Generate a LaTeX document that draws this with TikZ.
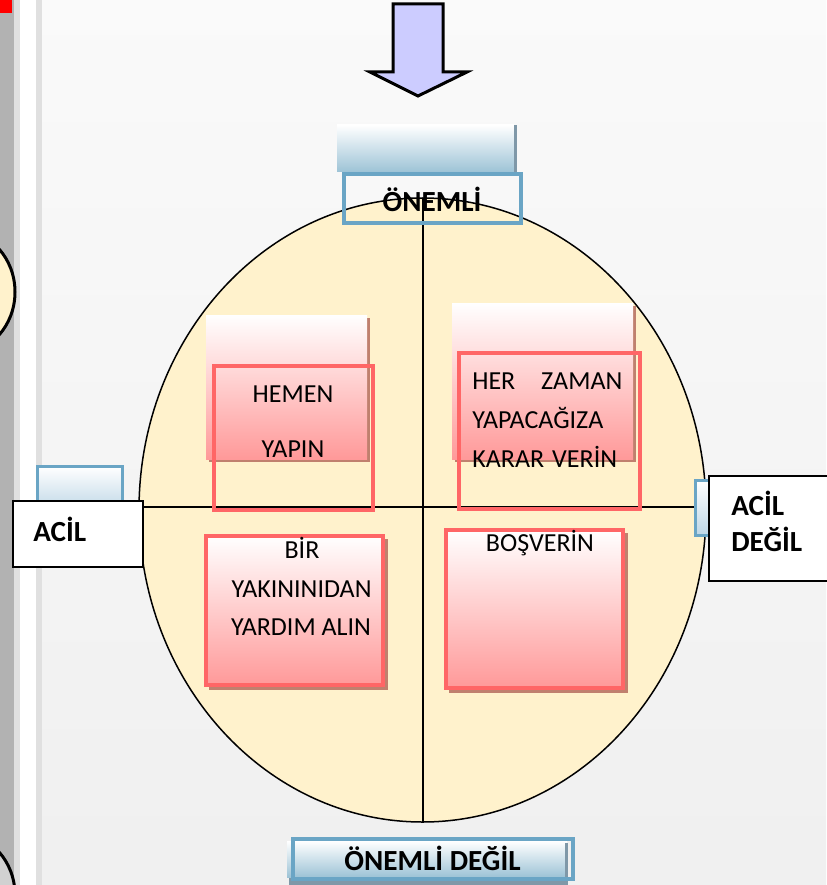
\documentclass[tikz,border=0pt]{standalone}
\usepackage{fontspec}
\setmainfont{Carlito}
\usetikzlibrary{calc}

\definecolor{cream}{HTML}{FFF2CC}
\definecolor{rosy}{HTML}{FF9999}
\definecolor{redline}{HTML}{FF6666}
\definecolor{brownshadow}{HTML}{C0806E}
\definecolor{steel}{HTML}{6AA5C5}
\definecolor{paleblue}{HTML}{9DC3D6}
\definecolor{iceblue}{HTML}{BDD6E6}
\definecolor{slate}{HTML}{7F98A8}
\definecolor{lilac}{HTML}{CCCCFF}

\tikzset{
  pinkgrad/.style={top color=white,bottom color=rosy},
  bluegrad/.style={top color=white,bottom color=#1},
  redframe/.style={draw=redline,line width=0.08cm},
  blueframe/.style={draw=steel,line width=0.08cm},
  bigword/.style={font=\bfseries\fontsize{16.6}{20.4}\selectfont,inner sep=0pt},
  quadword/.style={font=\fontsize{14.8}{22.4}\selectfont,inner sep=0pt}
}

\begin{document}
\begin{tikzpicture}[x=0.02cm,y=-0.02cm,line join=miter]

% ---------- page (1 unit = 1 pixel) ----------
\useasboundingbox (0,0) rectangle (826,885);
\begin{scope}
  \clip (0,0) rectangle (826,885);
  \shade[top color=black!2,bottom color=black!6] (42,0) rectangle (826,885);
  \fill[black!30] (0,0) rectangle (14,885);
  \fill[black!12] (14,0) rectangle (20,885);
  \fill[white] (20,0) rectangle (36,885);
  \fill[black!12] (36,0) rectangle (42,885);
  \fill[red] (0,0) rectangle (12,13);
  % bits of neighbouring shapes
  \draw[line width=0.06cm,fill=cream] (-40,292) ellipse [x radius=55,y radius=61];
  \draw[line width=0.06cm,fill=black!18] (-40,895) ellipse [x radius=55,y radius=61];
\end{scope}

% ---------- arrow ----------
\draw[line width=0.06cm,fill=lilac] (393,4) -- (443,4) -- (443,72) -- (467,72)
  -- (418,96) -- (370,72) -- (393,72) -- cycle;

% ---------- top label backing ----------
\shade[bluegrad=paleblue] (337,125) rectangle (514,172);
\fill[slate] (514,125) rectangle (517,172);

% ---------- circle and axes ----------
\draw[line width=0.03cm,fill=cream] (422.5,510) ellipse [x radius=283.5,y radius=312];
\draw[line width=0.03cm] (423,198) -- (423,822);
\draw[line width=0.03cm] (139,507) -- (706,507);

% ---------- quadrant boxes ----------
% top left
\fill[brownshadow] (209,318) rectangle (370,462);
\shade[pinkgrad] (206,315) rectangle (367,459);
\draw[redframe] (214,366) rectangle (373,510);
\node[quadword,anchor=base] (hemen) at (293,402) {HEMEN};
\node[quadword,anchor=base] (yapin) at (293,457) {YAPIN};

% top right
\fill[brownshadow] (455,306) rectangle (636,462);
\shade[pinkgrad] (452,303) rectangle (633,459);
\draw[redframe] (459,353) rectangle (640,509);
\node[quadword,anchor=base west,text width=3cm,align=left] (herzaman) at (472,389)
  {HER\hfill ZAMAN\\YAPACAĞIZA\\KARAR\hspace{0.16cm}VERİN};

% bottom left
\fill[brownshadow] (209,539) rectangle (388,690);
\shade[pinkgrad,redframe] (206,536) rectangle (383,685);
\node[quadword,anchor=base] (bir) at (302,558) {BİR};
\node[quadword,anchor=base] (yakin) at (301.5,597) {YAKININIDAN};
\node[quadword,anchor=base] (yardim) at (301,635) {YARDIM ALIN};

% bottom right
\fill[brownshadow] (449,533) rectangle (628,693);
\shade[pinkgrad,redframe] (446,530) rectangle (623,688);
\node[quadword,anchor=base] (bosverin) at (540,551) {BOŞVERİN};

% ---------- side labels ----------
\shade[bluegrad=iceblue,blueframe,line width=0.06cm] (37.5,466.5) rectangle (122.5,512);
\draw[line width=0.03cm,fill=white] (13,501) rectangle (143,567);
\node[bigword,anchor=base west] (acil) at (33,541) {ACİL};

\shade[bluegrad=iceblue,blueframe,line width=0.06cm] (695.5,480.5) rectangle (720,535.5);
\draw[line width=0.03cm,fill=white] (709,476) rectangle (830,581);
\node[bigword,anchor=base west,align=left] (acildegil) at (731,551) {ACİL\\DEĞİL};

% ---------- top and bottom labels ----------
\draw[blueframe] (344,174.5) rectangle (521,223);
\node[bigword,anchor=base] (onemli) at (432,212) {ÖNEMLİ};

\fill[slate] (289,877) rectangle (568,885);
\shade[bluegrad=paleblue] (287,841) rectangle (567,877);
\fill[slate] (565,843) rectangle (568,877);
\draw[blueframe] (293,839) rectangle (573,879);
\node[bigword,anchor=base] (onemlidegil) at (432.5,870) {ÖNEMLİ DEĞİL};

\end{tikzpicture}
\end{document}
